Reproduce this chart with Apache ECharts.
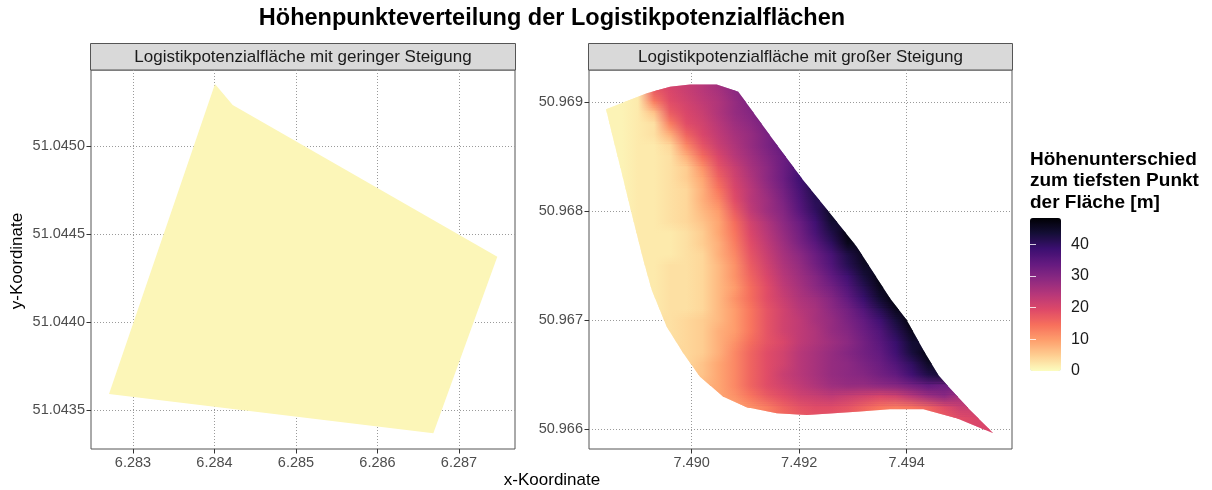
<!DOCTYPE html>
<html><head><meta charset="utf-8">
<script src="https://cdn.jsdelivr.net/npm/echarts@6/dist/echarts.min.js"></script>
<style>html,body{margin:0;padding:0;background:#fff}#chart{width:1212px;height:490px}</style>
</head><body><div id="chart"></div>
<script>
// ---------- texts ----------
const chartTitle = 'Höhenpunkteverteilung der Logistikpotenzialflächen';
const panelTitles = ['Logistikpotenzialfläche mit geringer Steigung', 'Logistikpotenzialfläche mit großer Steigung'];
const legendTitle = 'Höhenunterschied\nzum tiefsten Punkt\nder Fläche [m]';
const xAxisTitle = 'x-Koordinate';
const yAxisTitle = 'y-Koordinate';

// ---------- axes ----------
const leftXRange = [6.282485, 6.287687];
const leftYRange = [51.043278, 51.045432];
const rightXRange = [7.488089, 7.495959];
const rightYRange = [50.965819, 50.969293];
const leftXTicks = [6.283, 6.284, 6.285, 6.286, 6.287];
const leftYTicks = [51.0435, 51.0440, 51.0445, 51.0450];
const rightXTicks = [7.490, 7.492, 7.494];
const rightYTicks = [50.966, 50.967, 50.968, 50.969];
const legendTicks = [0, 10, 20, 30, 40];
const legendRange = [0, 48.3];

// ---------- left area (almost flat) ----------
const leftPolyX = [6.284006, 6.284223, 6.287470, 6.286685, 6.282706];
const leftPolyY = [51.045352, 51.045233, 51.044371, 51.043368, 51.043591];
const leftHeight = 0.7;

// ---------- right area outline ----------
const outlineX = [7.488406, 7.489163, 7.489596, 7.489968, 7.490465, 7.490867, 7.491518, 7.492071, 7.492573, 7.493070, 7.493689, 7.494000, 7.494309, 7.494588, 7.494774, 7.495178, 7.495611, 7.494930, 7.494309, 7.493689, 7.493070, 7.492140, 7.491581, 7.491023, 7.490588, 7.490154, 7.489844, 7.489535, 7.489256, 7.489100, 7.488880, 7.488685, 7.488545];
const outlineY = [50.968933, 50.969080, 50.969140, 50.969159, 50.969159, 50.969094, 50.968652, 50.968285, 50.967980, 50.967674, 50.967201, 50.967002, 50.966727, 50.966498, 50.966391, 50.966177, 50.965963, 50.966101, 50.966183, 50.966183, 50.966161, 50.966131, 50.966147, 50.966202, 50.966299, 50.966482, 50.966697, 50.966940, 50.967277, 50.967552, 50.967983, 50.968377, 50.968652];

// ---------- right area height samples (rows of the raster) ----------
const xCols = [7.4884, 7.4887, 7.4890, 7.4893, 7.4896, 7.4899, 7.4902, 7.4905, 7.4908, 7.4911, 7.4914, 7.4917, 7.4920, 7.4923, 7.4926, 7.4929, 7.4932, 7.4935, 7.4938, 7.4941, 7.4944, 7.4947, 7.4950, 7.4953, 7.4956];
const yRows = [50.9692, 50.9691, 50.9690, 50.9689, 50.9688, 50.9687, 50.9686, 50.9685, 50.9684, 50.9683, 50.9682, 50.9681, 50.9680, 50.9679, 50.9678, 50.9677, 50.9676, 50.9675, 50.9674, 50.9673, 50.9672, 50.9671, 50.9670, 50.9669, 50.9668, 50.9667, 50.9666, 50.9665, 50.9664, 50.9663, 50.9662, 50.9661, 50.9660];
const rowStart = [3, 1, 0, 0, 0, 0, 0, 1, 1, 1, 1, 1, 1, 1, 2, 2, 2, 2, 3, 3, 3, 3, 4, 4, 4, 4, 5, 5, 6, 7, 8, 10, 21];
const heightRows = [
  [19, 21, 22, 24, 27, 29],
  [1, 2, 17, 20, 22, 24, 26, 29, 31],
  [1, 1, 2, 13, 19, 21, 23, 25, 28, 31],
  [1, 1, 2, 6, 17, 20, 22, 25, 28, 30, 33],
  [1, 1, 2, 3, 13, 19, 21, 24, 27, 29, 32],
  [1, 1, 2, 3, 8, 16, 20, 23, 26, 28, 31, 34],
  [1, 1, 2, 2, 4, 12, 18, 22, 25, 28, 31, 34],
  [1, 2, 2, 3, 8, 15, 20, 24, 27, 30, 33, 36],
  [1, 2, 2, 3, 5, 11, 18, 22, 26, 29, 33, 37],
  [1, 2, 2, 3, 5, 9, 16, 21, 25, 29, 33, 38, 41],
  [1, 2, 2, 3, 4, 8, 14, 20, 24, 28, 32, 37, 42],
  [1, 2, 2, 3, 4, 8, 12, 19, 24, 27, 31, 36, 41],
  [1, 2, 2, 3, 4, 7, 10, 17, 23, 27, 30, 35, 40, 45],
  [1, 2, 2, 3, 4, 6, 9, 15, 21, 25, 29, 33, 38, 44],
  [2, 2, 2, 3, 5, 9, 14, 20, 24, 28, 32, 37, 42, 47],
  [2, 2, 2, 3, 5, 8, 13, 19, 23, 27, 31, 35, 40, 46],
  [2, 2, 2, 3, 4, 8, 12, 18, 22, 26, 29, 33, 37, 42, 46],
  [2, 2, 3, 3, 4, 7, 11, 17, 21, 25, 28, 32, 36, 41, 45],
  [2, 3, 3, 4, 7, 11, 16, 20, 24, 27, 30, 34, 38, 43, 47],
  [2, 3, 3, 4, 7, 10, 15, 19, 23, 26, 29, 32, 36, 41, 46],
  [2, 3, 3, 4, 7, 11, 15, 19, 22, 25, 27, 30, 34, 39, 44, 48],
  [2, 3, 3, 4, 7, 10, 14, 18, 21, 24, 26, 29, 32, 36, 41, 46],
  [3, 4, 5, 7, 10, 14, 18, 21, 23, 26, 28, 31, 34, 38, 43, 48],
  [3, 4, 5, 8, 10, 14, 18, 21, 23, 25, 28, 30, 33, 36, 41, 46],
  [3, 4, 5, 8, 11, 15, 18, 20, 23, 25, 27, 29, 32, 35, 39, 44],
  [4, 4, 5, 8, 12, 16, 19, 21, 24, 26, 28, 30, 32, 34, 38, 43, 47],
  [4, 6, 9, 12, 16, 19, 21, 24, 26, 28, 29, 31, 33, 36, 40, 45],
  [5, 6, 9, 12, 16, 19, 22, 24, 26, 28, 29, 30, 32, 34, 38, 42, 44],
  [7, 9, 12, 16, 19, 21, 23, 25, 27, 28, 28, 29, 30, 32, 34, 33],
  [9, 11, 14, 17, 19, 21, 22, 23, 22, 21, 20, 21, 24, 27, 29, 26],
  [9, 11, 13, 16, 18, 19, 19, 18, 16, 14, 13, 14, 16, 19, 22, 22],
  [13, 15, 17, 18, 18, 17, 15, 13, 13, 14, 15, 17, 19, 20, 20],
  [18, 19, 20, 20]
];
const blendSteps = 6;

// ---------- colour scale (magma, reversed) ----------
const magmaLowToHigh = ['#fcfdbf', '#fecf92', '#fe9f6d', '#f7705c', '#de4968', '#b73779', '#8c2981', '#641a80', '#3b0f70', '#140e36', '#000004'];
function hexToRgb(h) { return [parseInt(h.slice(1, 3), 16), parseInt(h.slice(3, 5), 16), parseInt(h.slice(5, 7), 16)]; }
const magmaRgb = magmaLowToHigh.map(hexToRgb);
function magma(v) {
  let f = Math.max(0, Math.min(1, (v - legendRange[0]) / (legendRange[1] - legendRange[0]))) * (magmaRgb.length - 1);
  let i = Math.min(Math.floor(f), magmaRgb.length - 2);
  const t = f - i, a = magmaRgb[i], b = magmaRgb[i + 1];
  return 'rgb(' + [0, 1, 2].map(k => Math.round(a[k] + (b[k] - a[k]) * t)).join(',') + ')';
}

const FONT = '"Liberation Sans", Arial, sans-serif';

function renderLeft(params, api) {
  const pts = leftPolyX.map((x, i) => api.coord([x, leftPolyY[i]]));
  return { type: 'polygon', shape: { points: pts }, style: { fill: api.visual('color') } };
}

function rowFill(r, api) {
  const vals = heightRows[r], s = rowStart[r];
  const pxFirst = api.coord([xCols[s], yRows[r]])[0];
  const pxLast = api.coord([xCols[s + vals.length - 1], yRows[r]])[0];
  return {
    type: 'linear', x: pxFirst, y: 0, x2: pxLast, y2: 0, global: true,
    colorStops: vals.map((v, i) => ({
      offset: (api.coord([xCols[s + i], yRows[r]])[0] - pxFirst) / (pxLast - pxFirst),
      color: magma(v)
    }))
  };
}

function renderRow(params, api) {
  const r = api.value(2);
  const last = r === yRows.length - 1;
  const xl = api.coord([rightXRange[0], yRows[r]])[0];
  const xr = api.coord([rightXRange[1], yRows[r]])[0];
  const pr = api.coord([xCols[0], yRows[r]])[1];
  const pn = last ? api.coord([xCols[0], rightYRange[0]])[1] : api.coord([xCols[0], yRows[r + 1]])[1];
  const p0 = r === 0 ? api.coord([xCols[0], rightYRange[1]])[1] : pr;
  const children = [{ type: 'rect', shape: { x: xl, y: p0 - 0.5, width: xr - xl, height: pn - p0 + 1 }, style: { fill: rowFill(r, api) } }];
  if (!last) {
    for (let k = 0; k < blendSteps; k++) {
      const a = pr + (pn - pr) * k / blendSteps, b = pr + (pn - pr) * (k + 1) / blendSteps;
      children.push({ type: 'rect', shape: { x: xl, y: a, width: xr - xl, height: b - a }, style: { fill: rowFill(r + 1, api), opacity: (k + 0.5) / blendSteps } });
    }
  }
  const clip = outlineX.map((x, i) => api.coord([x, outlineY[i]]));
  return { type: 'group', children: children, clipPath: { type: 'polygon', shape: { points: clip } } };
}

function panelAxis(idx, range, ticks, dec, split) {
  return {
    gridIndex: idx, type: 'value', min: range[0], max: range[1], splitNumber: split,
    axisLine: { show: false },
    axisTick: { show: true, customValues: ticks, length: 4.5, lineStyle: { color: '#333', width: 1 } },
    axisLabel: { customValues: ticks, formatter: v => Number(v).toFixed(dec), color: '#4d4d4d', fontSize: 14.5, fontFamily: FONT, margin: 6 },
    splitLine: { show: true, lineStyle: { color: '#9a9a9a', width: 1, type: [1, 2] } }
  };
}

const chart = echarts.init(document.getElementById('chart'), null, { renderer: 'canvas' });
const option = {
  animation: false,
  backgroundColor: '#fff',
  textStyle: { fontFamily: FONT },
  grid: [
    { left: 91, top: 70, width: 424, height: 379, show: true, borderColor: '#555', borderWidth: 1, backgroundColor: 'transparent' },
    { left: 589, top: 70, width: 423, height: 379, show: true, borderColor: '#555', borderWidth: 1, backgroundColor: 'transparent' },
    { left: 1030, top: 218, width: 31, height: 153, show: false }
  ],
  xAxis: [
    panelAxis(0, leftXRange, leftXTicks, 3, 5),
    panelAxis(1, rightXRange, rightXTicks, 3, 5),
    { gridIndex: 2, type: 'value', show: false, min: 0, max: 1 }
  ],
  yAxis: [
    panelAxis(0, leftYRange, leftYTicks, 4, 5),
    panelAxis(1, rightYRange, rightYTicks, 3, 3),
    {
      gridIndex: 2, type: 'value', min: legendRange[0], max: legendRange[1], position: 'right', z: 10,
      axisLine: { show: false }, splitLine: { show: false },
      axisTick: { show: true, inside: true, length: 6, customValues: legendTicks, lineStyle: { color: '#ffffff', width: 1, opacity: 0.8 } },
      axisLabel: { customValues: legendTicks, color: '#1a1a1a', fontSize: 16, fontFamily: FONT, margin: 10 }
    },
    {
      gridIndex: 2, type: 'value', min: legendRange[0], max: legendRange[1], position: 'left', z: 10,
      axisLine: { show: false }, splitLine: { show: false }, axisLabel: { show: false },
      axisTick: { show: true, inside: true, length: 6, customValues: legendTicks, lineStyle: { color: '#ffffff', width: 1, opacity: 0.8 } }
    }
  ],
  visualMap: {
    type: 'continuous', min: legendRange[0], max: legendRange[1], seriesIndex: 0, dimension: 2,
    calculable: false, hoverLink: false, orient: 'vertical', left: 1030, top: 218, padding: 0,
    itemWidth: 31, itemHeight: 153, text: null, showLabel: false,
    inRange: { color: magmaLowToHigh }
  },
  series: [
    {
      type: 'custom', xAxisIndex: 0, yAxisIndex: 0, renderItem: renderLeft,
      data: [[leftPolyX[0], leftPolyY[0], leftHeight]], encode: { x: 0, y: 1 }, z: 3
    },
    {
      type: 'custom', xAxisIndex: 1, yAxisIndex: 1, renderItem: renderRow,
      data: yRows.map((y, r) => [xCols[rowStart[r]], y, r]), encode: { x: 0, y: 1 }, z: 3
    }
  ],
  graphic: [
    { type: 'text', x: 552, y: 19, style: { text: chartTitle, font: 'bold 23.5px ' + FONT, fill: '#000', align: 'center', verticalAlign: 'middle', textAlign: 'center', textVerticalAlign: 'middle' } },
    { type: 'rect', shape: { x: 90.5, y: 43.5, width: 425, height: 26.5 }, style: { fill: '#d9d9d9', stroke: '#555', lineWidth: 1 } },
    { type: 'rect', shape: { x: 588.5, y: 43.5, width: 424, height: 26.5 }, style: { fill: '#d9d9d9', stroke: '#555', lineWidth: 1 } },
    { type: 'text', x: 303, y: 57.5, style: { text: panelTitles[0], font: '17px ' + FONT, fill: '#1a1a1a', align: 'center', verticalAlign: 'middle', textAlign: 'center', textVerticalAlign: 'middle' } },
    { type: 'text', x: 800.5, y: 57.5, style: { text: panelTitles[1], font: '17px ' + FONT, fill: '#1a1a1a', align: 'center', verticalAlign: 'middle', textAlign: 'center', textVerticalAlign: 'middle' } },
    { type: 'text', x: 552, y: 480, style: { text: xAxisTitle, font: '17px ' + FONT, fill: '#000', align: 'center', verticalAlign: 'middle', textAlign: 'center', textVerticalAlign: 'middle' } },
    { type: 'text', x: 17, y: 261, rotation: Math.PI / 2, style: { text: yAxisTitle, font: '17px ' + FONT, fill: '#000', align: 'center', verticalAlign: 'middle', textAlign: 'center', textVerticalAlign: 'middle' } },
    { type: 'text', x: 1030, y: 149, style: { text: legendTitle, font: 'bold 19px ' + FONT, lineHeight: 21.5, fill: '#000', align: 'left', verticalAlign: 'top', textAlign: 'left', textVerticalAlign: 'top' } }
  ]
};
chart.setOption(option);
</script>
</body></html>
